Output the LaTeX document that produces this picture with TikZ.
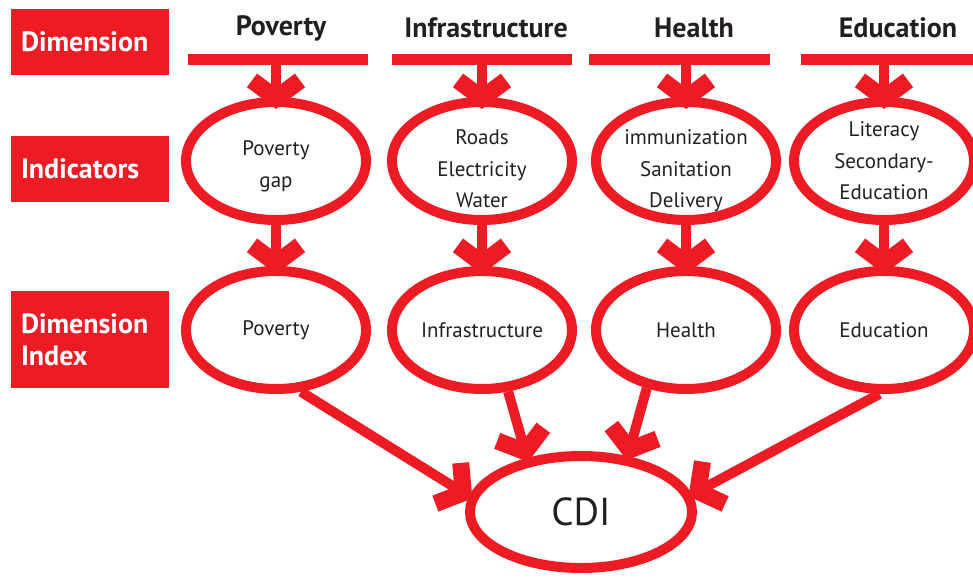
\documentclass[tikz,border=0pt]{standalone}
\usepackage{fontspec}
\setmainfont{PT Sans}
\usetikzlibrary{arrows.meta,shapes.geometric}
\definecolor{cdired}{HTML}{ED1C24}
\definecolor{ink}{HTML}{231F20}

\begin{document}
\begin{tikzpicture}[x=1pt, y=1pt,
  >={Straight Barb[length=18pt,width=48pt,line width=0pt 1.7,sharp]},
  lbl/.style={fill=cdired, text=white, font=\fontsize{28}{32}\selectfont\bfseries,
    minimum width=158pt, text width=138pt, inner xsep=10pt, align=left},
  head/.style={text=ink, font=\fontsize{28}{30}\selectfont\bfseries},
  oval/.style={ellipse, draw=cdired, line width=10pt, minimum width=180pt,
    minimum height=118pt, inner sep=-10pt, text=ink, align=center,
    font=\fontsize{21}{31.5}\selectfont},
  bar/.style={cdired, line width=11pt},
  link/.style={->, cdired, line width=10pt}]
\useasboundingbox (0,0) rectangle (973,-578);

% row captions
\node[lbl, minimum height=66pt] (ldim) at (90,-42) {Dimension};
\node[lbl, minimum height=66pt] (lind) at (90,-169) {Indicators};
\node[lbl, minimum height=97pt] (lidx) at (90,-339.5) {Dimension\\Index};

% dimension headers and bars
\node[head] (hpov) at (281,-28) {Poverty};
\node[head] (hinf) at (486,-28) {Infrastructure};
\node[head] (hhea) at (694,-28) {Health};
\node[head] (hedu) at (898,-28) {Education};
\draw[bar] (188,-59.5) -- (368,-59.5);
\draw[bar] (392,-59.5) -- (572,-59.5);
\draw[bar] (589,-59.5) -- (770,-59.5);
\draw[bar] (801,-59.5) -- (973,-59.5);
\coordinate (tpov) at (276,-59.5);
\coordinate (tinf) at (482,-59.5);
\coordinate (thea) at (686,-59.5);
\coordinate (tedu) at (884,-59.5);

% indicators (the rule pushes the lines down a bit)
\node[oval] (ipov) at (276,-161) {\rule{0pt}{25pt}Poverty\\gap};
\node[oval] (iinf) at (482,-161) {\rule{0pt}{31pt}Roads\\Electricity\\Water};
\node[oval] (ihea) at (686,-161) {\rule{0pt}{35pt}immunization\\Sanitation\\Delivery};
\node[oval] (iedu) at (884,-161) {Literacy\\Secondary-\\Education};

% dimension indices
\node[oval] (xpov) at (276,-330) {Poverty};
\node[oval] (xinf) at (482,-330) {Infrastructure};
\node[oval] (xhea) at (686,-330) {Health};
\node[oval] (xedu) at (884,-330) {Education};

\node[oval, minimum width=222pt, minimum height=112pt,
  font=\fontsize{39}{40}\selectfont] (cdi) at (581,-512) {CDI};

\foreach \n in {pov,inf,hea,edu} {
  \draw[link, shorten >=-12pt] (t\n) -- (i\n.north);
  \draw[link, shorten >=-8pt] (i\n.south) -- (x\n.north);
}

\draw[link, shorten >=-4pt] (xpov.-68) -- (cdi.172);
\draw[link, shorten >=-4pt] (xinf.-67) -- (cdi.135);
\draw[link, shorten >=-4pt] (xhea.-124) -- (cdi.50);
\draw[link, shorten >=-4pt] (xedu.-94) -- (cdi.9);
\end{tikzpicture}
\end{document}
